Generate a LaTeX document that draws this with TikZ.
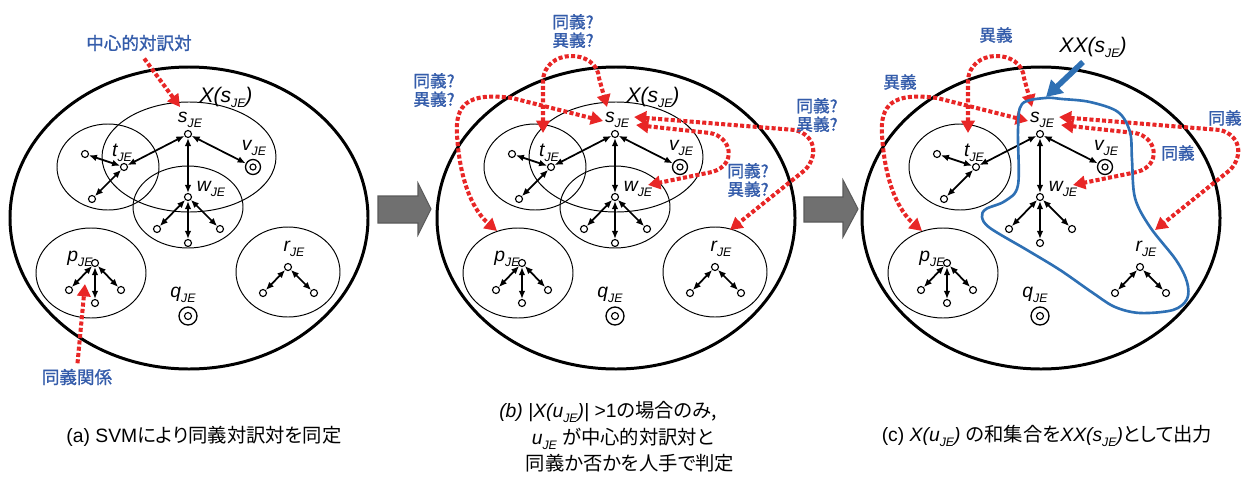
\documentclass[tikz,border=0pt]{standalone}
\usepackage{fontspec}
\setmainfont{Liberation Sans}
\newfontfamily\jp[RawFeature={+palt}]{Noto Sans CJK JP}
\newfontfamily\jpnote[RawFeature={+palt},FakeBold=1.2]{Noto Sans CJK JP}
\usetikzlibrary{arrows.meta}

\definecolor{relred}{RGB}{232,38,38}
\definecolor{noteblue}{RGB}{52,92,170}
\definecolor{hullblue}{RGB}{46,112,180}
\definecolor{stepgray}{RGB}{112,112,112}

% italic "JE" subscript
\newcommand\JE{\raisebox{-0.45ex}{\fontsize{7}{7}\selectfont\itshape JE}}

% translation pairs and their links (panel-local coordinates)
\newcommand\pairnet{%
  \node[pairpt]  (s)  at (188,134) {};
  \node[pairpt]  (t)  at (124,167) {};
  \node[ringpt] (v)  at (253,167) {};
  \node[pairpt]  (w)  at (188,197) {};
  \node[pairpt]  (t1) at (85,154) {};
  \node[pairpt]  (t2) at (92,199) {};
  \node[pairpt]  (w1) at (157,229) {};
  \node[pairpt]  (w2) at (188,243) {};
  \node[pairpt]  (w3) at (220,229) {};
  \node[pairpt]  (p)  at (95,263) {};
  \node[pairpt]  (p1) at (69,290) {};
  \node[pairpt]  (p2) at (95,303) {};
  \node[pairpt]  (p3) at (121,290) {};
  \node[pairpt]  (r)  at (288,267) {};
  \node[pairpt]  (r1) at (263,293) {};
  \node[pairpt]  (r2) at (314,293) {};
  \node[bigringpt] (q)  at (188,316) {};
  \foreach \a/\b in {s/t,s/v,s/w,t/t1,t/t2,w/w1,w/w2,w/w3,p/p1,p/p2,p/p3,r/r1,r/r2}
    \draw[pairlink] (\a) -- (\b);
  \node[pairlab] (sl) at (190,120) {s\JE};
  \node[pairlab] (tl) at (122,153) {t\JE};
  \node[pairlab] (vl) at (254,148) {v\JE};
  \node[pairlab] (wl) at (211,189) {w\JE};
  \node[pairlab] (pl) at (80,259) {p\JE};
  \node[pairlab] (ql) at (183,295) {q\JE};
  \node[pairlab] (rl) at (294,249) {r\JE};
  % ends of the judgement arrows
  \coordinate (sT)  at (180,107);
  \coordinate (sL)  at (176,121);
  \coordinate (sR1) at (207,117);
  \coordinate (sR2) at (209,125);
  \coordinate (tT)  at (116,133);
  \coordinate (pT)  at (70,231);
  \coordinate (rT)  at (303,230);
  \coordinate (wR)  at (221,185);
}

% cluster ellipses
\newcommand\clWorld{\draw[worldline] (189,218) ellipse [x radius=179, y radius=151];}
\newcommand\clX{\draw[groupline] (189,157) ellipse [x radius=87, y radius=55];}
\newcommand\clT{\draw[groupline] (108,167) ellipse [x radius=51, y radius=43];}
\newcommand\clW{\draw[groupline] (188,207) ellipse [x radius=55, y radius=41];}
\newcommand\clP{\draw[groupline] (91,273) ellipse [x radius=55, y radius=45];}
\newcommand\clR{\draw[groupline] (288,272) ellipse [x radius=52, y radius=45];}

% manual judgement arrows between s and the other pairs
\newcommand\judgements{%
  \draw[judge] (tT) -- (116,82) .. controls (116,48) and (170,48) .. (172,78) -- (sT);
  \draw[judge] (sL) -- (85,98) .. controls (40,92) and (28,105) .. (30,135)
             .. controls (33,185) and (48,212) .. (pT);
  \draw[judge] (sR1) -- (368,130) .. controls (388,135) and (392,155) .. (378,170) -- (rT);
  \draw[judge] (sR2) -- (283,133) .. controls (305,137) and (310,165) .. (285,172) -- (wR);
}

\begin{document}
\begin{tikzpicture}[x=0.02cm,y=-0.02cm,
  pairpt/.style={circle,draw,line width=0.65pt,inner sep=0pt,minimum size=0.14cm,fill=white},
  ringpt/.style={circle,draw,line width=0.75pt,inner sep=0pt,minimum size=0.30cm,fill=white,
    path picture={\draw[line width=0.65pt] (path picture bounding box.center) circle (0.06cm);}},
  bigringpt/.style={ringpt,minimum size=0.36cm,
    path picture={\draw[line width=0.65pt] (path picture bounding box.center) circle (0.07cm);}},
  pairlab/.style={inner sep=0pt,font=\fontsize{11}{11}\selectfont\itshape},
  pairlink/.style={{Latex[length=4.6pt,width=3.8pt]}-{Latex[length=4.6pt,width=3.8pt]},line width=1pt},
  groupline/.style={line width=0.55pt},
  worldline/.style={line width=1.7pt},
  judge/.style={draw=relred,line width=2.3pt,dash pattern=on 2.3pt off 1.3pt,
    {Triangle[length=7pt,width=7.5pt]}-{Triangle[length=7pt,width=7.5pt]}},
  pointer/.style={draw=relred,line width=2.3pt,dash pattern=on 2.3pt off 1.3pt,
    -{Triangle[length=7pt,width=7.5pt]}},
  notetext/.style={text=noteblue,font=\jpnote\fontsize{9.5}{10.5}\selectfont,align=center,inner sep=0pt},
  bignotetext/.style={notetext,font=\jpnote\fontsize{10}{11}\selectfont},
  setlab/.style={inner sep=0pt,font=\fontsize{12}{12}\selectfont\itshape},
  bigarrow/.style={fill=stepgray,draw=stepgray!80!black,line width=0.6pt},
  hullline/.style={draw=hullblue,line width=1.5pt},
  hullarrow/.style={draw=hullblue,line width=3.2pt,-{Triangle[length=9pt,width=10pt]}},
  captext/.style={inner sep=0pt,font=\fontsize{11}{13}\selectfont},
]
\useasboundingbox (0,0) rectangle (1250,477);

% ---------------- (a) ----------------
\begin{scope}[name prefix=a-]
  \clWorld \clX \clT \clW \clP \clR
  \pairnet
  \node[setlab] (xl) at (226,97) {X(s\JE)};
  \coordinate (syn) at (85,284);
\end{scope}
\node[bignotetext] (centre) at (139,43) {中心的対訳対};
\node[bignotetext] (synrel) at (77,377) {同義関係};
\draw[pointer,shorten <=5pt] (centre.south) -- (a-sT);
\draw[pointer,shorten <=3pt] (synrel.north) -- (a-syn);

% step arrow (a) -> (b)
\filldraw[bigarrow] (378,196) -- (418,196) -- (418,183) -- (431,209) -- (418,235)
  -- (418,223) -- (378,223) -- cycle;

% ---------------- (b) ----------------
\begin{scope}[shift={(427,0)},name prefix=b-]
  \clWorld \clX \clT \clW \clP \clR
  \pairnet
  \node[setlab] (xl) at (226,97) {X(s\JE)};
  \judgements
\end{scope}
\node[notetext] (qa) at (573,31) {同義?\\異義?};
\node[notetext] (qb) at (434,90) {同義?\\異義?};
\node[notetext] (qc) at (817,115) {同義?\\異義?};
\node[notetext] (qd) at (748,180) {同義?\\異義?};

% step arrow (b) -> (c)
\filldraw[bigarrow] (804,197) -- (843,197) -- (843,180) -- (858,209) -- (843,237)
  -- (843,222) -- (804,222) -- cycle;

% ---------------- (c) ----------------
\begin{scope}[shift={(852,0)},name prefix=c-]
  \clWorld \clT \clP
  \pairnet
  \judgements
\end{scope}
\node[notetext] (ja) at (996,35) {異義};
\node[notetext] (jb) at (900,82) {異義};
\node[notetext] (jc) at (1225,118) {同義};
\node[notetext] (jd) at (1178,153) {同義};

% union of the synonymous clusters
\draw[hullline] plot[smooth cycle,tension=0.55] coordinates {
  (1045,98) (1022,104) (1018,130) (1018,185) (1005,201) (986,209) (982,217)
  (990,228) (1027,250) (1060,270) (1093,293) (1115,307) (1140,313)
  (1173,310) (1187,299) (1187,282) (1176,260) (1150,227) (1135,198)
  (1132,160) (1130,132) (1118,112) (1090,102) (1062,99)};
\node[setlab] (xx) at (1093,47) {XX(s\JE)};
\coordinate (hull-in) at (1083,62);
\coordinate (hull-top) at (1046,97);
\draw[hullarrow] (hull-in) -- (hull-top);

% ---------------- captions ----------------
\node[captext] (capa) at (204,436) {(a) SVM{\jp により同義対訳対を同定}};
\node[captext] (capb1) at (608,412) {{\itshape (b) |X(u\JE)|} {>}1{\jp の場合のみ,}};
\node[captext] (capb2) at (623,439) {{\itshape u}\JE\ {\jp が中心的対訳対と}};
\node[captext] (capb3) at (630,463) {\jp 同義か否かを人手で判定};
\node[captext] (capc) at (1047,436) {(c) {\itshape X(u\JE)} {\jp の和集合を}{\itshape XX(s\JE)}{\jp として出力}};
\end{tikzpicture}
\end{document}
